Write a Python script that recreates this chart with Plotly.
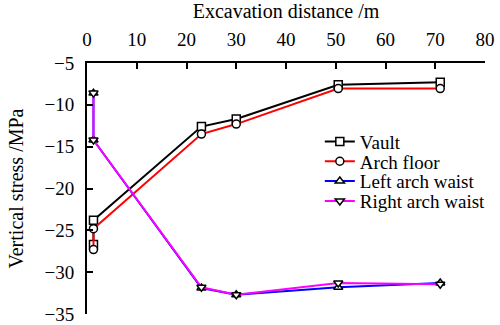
import plotly.graph_objects as go

x_vals = [1.3, 1.3, 23, 30, 50.5, 71]
vault = [-26.7, -23.8, -12.6, -11.7, -7.6, -7.3]
arch_floor = [-27.3, -24.8, -13.5, -12.3, -8.05, -8.05]
left_waist = [-8.6, -14.2, -31.9, -32.7, -31.8, -31.3]
right_waist = [-8.6, -14.2, -31.8, -32.7, -31.3, -31.45]

series = [
    ("Vault", vault, "black", "square"),
    ("Arch floor", arch_floor, "red", "circle"),
    ("Left arch waist", left_waist, "blue", "triangle-up"),
    ("Right arch waist", right_waist, "magenta", "triangle-down"),
]
legend_ids = ["legend", "legend2", "legend3", "legend4"]
legend_y = [0.687, 0.608, 0.529, 0.450]

font = "Liberation Serif"
fig = go.Figure()
for (name, ys, col, sym), lid in zip(series, legend_ids):
    fig.add_trace(go.Scatter(
        x=x_vals, y=ys, name=name, mode="lines+markers",
        line=dict(color=col, width=2),
        marker=dict(symbol=sym, size=8, color="white",
                    line=dict(color="black", width=1.5)),
        legend=lid,
    ))

leg_common = dict(x=0.585, xanchor="left", yanchor="middle",
                  bgcolor="rgba(0,0,0,0)", font=dict(family=font, size=19),
                  itemwidth=30)
legends = {lid: dict(leg_common, y=ly) for lid, ly in zip(legend_ids, legend_y)}

fig.update_layout(
    width=500, height=325,
    margin=dict(l=87, r=15, t=63, b=11, autoexpand=False),
    paper_bgcolor="white", plot_bgcolor="white",
    font=dict(family=font, size=19, color="black"),
    showlegend=True,
    **legends,
    xaxis=dict(
        range=[0, 80], side="top", dtick=10, tick0=0,
        showline=True, linecolor="black", linewidth=2,
        ticks="inside", ticklen=6, tickwidth=2, tickcolor="black",
        showgrid=False, zeroline=False, mirror=False, automargin=False,
        ticklabelstandoff=7,
        tickfont=dict(family=font, size=19),
        title=dict(text="Excavation distance /m", font=dict(family=font, size=20)),
    ),
    yaxis=dict(
        range=[-35, -5], dtick=5, tick0=-35,
        showline=True, linecolor="black", linewidth=2,
        ticks="inside", ticklen=6, tickwidth=2, tickcolor="black",
        showgrid=False, zeroline=False, mirror=False, automargin=False,
        ticklabelstandoff=7,
        tickfont=dict(family=font, size=19),
        title=dict(text="Vertical stress /MPa", font=dict(family=font, size=20)),
    ),
)
fig.write_html("out.html")
